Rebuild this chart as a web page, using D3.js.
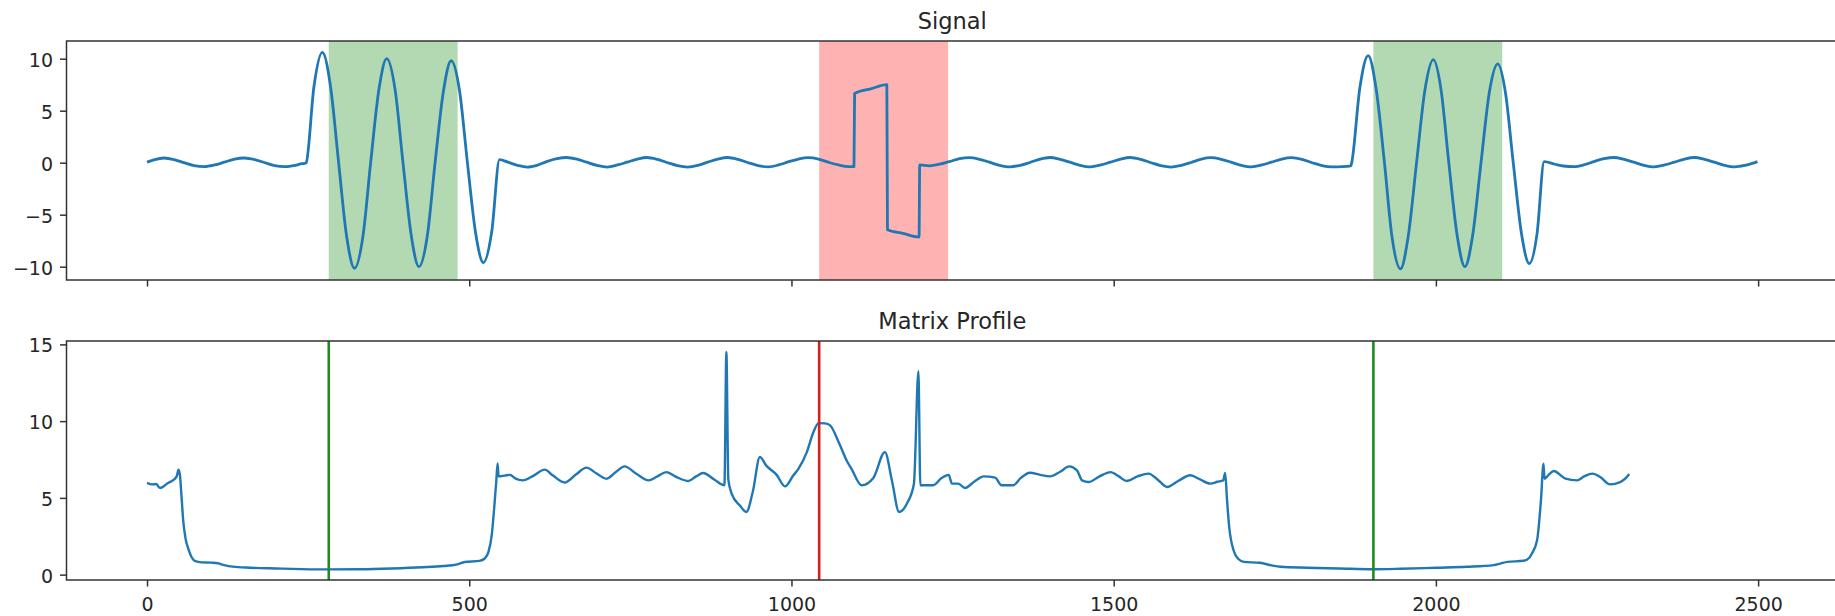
<!DOCTYPE html>
<html>
<head>
<meta charset="utf-8">
<script src="https://cdn.jsdelivr.net/npm/d3@7"></script>
<style>
  body { margin: 0; background: #fff; }
  svg { display: block; }
</style>
</head>
<body>
<svg id="chart" width="1835" height="616"></svg>
<script>

// signal (x = sample index, y = value)
const sigX = [0, 12, 26, 42, 57, 73, 89, 105, 120, 136, 151, 167, 182, 198, 214, 230, 240, 246,
  247, 259, 272, 285, 297, 310, 322, 335, 347, 360, 372, 385, 397, 410, 422, 435, 447, 460, 472, 485, 497, 510, 522, 535, 547,
  560, 575, 590, 605, 620, 636, 651, 667, 682, 698, 714, 730, 745, 761, 776, 792, 807, 823, 839, 855, 870, 886, 901, 917, 932, 948, 964, 980, 995, 1011, 1026, 1042, 1057, 1073, 1089, 1097,
  1098, 1123, 1148, 1149, 1173, 1198, 1199,
  1214, 1230, 1245, 1261, 1276, 1292, 1307, 1323, 1339, 1355, 1370, 1386, 1401, 1417, 1432, 1448, 1464, 1480, 1495, 1511, 1526, 1542, 1557, 1573, 1589, 1605, 1620, 1636, 1651, 1667, 1682, 1698, 1714, 1730, 1745, 1761, 1776, 1792, 1807, 1823, 1839, 1855, 1868,
  1869, 1882, 1895, 1907, 1920, 1932, 1945, 1957, 1970, 1983, 1996, 2008, 2020, 2033, 2045, 2057, 2070, 2083, 2096, 2108, 2120, 2133, 2145, 2157, 2168,
  2185, 2198, 2214, 2230, 2245, 2261, 2276, 2292, 2307, 2323, 2339, 2355, 2370, 2386, 2401, 2417, 2432, 2448, 2464, 2480, 2492, 2499];
const sigY = [0.05, 0.3, 0.45, 0.3, 0.0, -0.28, -0.38, -0.22, 0.05, 0.35, 0.45, 0.3, 0.02, -0.28, -0.38, -0.25, -0.1, -0.05,
  0.0, 7.3, 10.6, 7.2, 0.2, -7.2, -10.15, -7.1, 0.0, 7.1, 10.0, 7.0, 0.1, -7.0, -10.0, -7.0, 0.0, 6.9, 9.8, 6.9, 0.1, -6.8, -9.6, -6.6, 0.3,
  0.05, -0.25, -0.42, -0.25, 0.1, 0.38, 0.5, 0.35, 0.05, -0.25, -0.42, -0.22, 0.05, 0.35, 0.5, 0.32, 0.02, -0.28, -0.42, -0.25, 0.05, 0.35, 0.5, 0.32, 0.02, -0.28, -0.4, -0.22, 0.08, 0.35, 0.48, 0.35, 0.05, -0.22, -0.38, -0.38,
  6.65, 7.1, 7.5, -6.45, -6.8, -7.15, -0.22,
  -0.3, -0.15, 0.1, 0.38, 0.48, 0.32, 0.05, -0.25, -0.4, -0.25, 0.02, 0.35, 0.5, 0.32, 0.05, -0.25, -0.4, -0.22, 0.05, 0.35, 0.5, 0.32, 0.02, -0.28, -0.42, -0.25, 0.02, 0.35, 0.48, 0.32, 0.05, -0.25, -0.4, -0.22, 0.05, 0.35, 0.48, 0.32, 0.02, -0.28, -0.4, -0.38, -0.3,
  -0.1, 7.2, 10.3, 7.2, 0.1, -7.2, -10.2, -7.1, 0.0, 7.0, 9.9, 7.0, 0.0, -7.0, -10.0, -7.0, 0.0, 6.8, 9.5, 6.7, 0.0, -6.9, -9.7, -6.8, 0.1,
  -0.15, -0.32, -0.38, -0.2, 0.1, 0.38, 0.5, 0.32, 0.05, -0.25, -0.4, -0.22, 0.05, 0.35, 0.5, 0.32, 0.05, -0.25, -0.4, -0.25, -0.05, 0.1];

// matrix profile
const mpX = [0, 5, 9, 14, 20, 24, 32, 40, 46, 49, 51, 54, 56, 60, 64, 69, 75, 85, 100, 110, 120, 133, 160, 200, 240, 282, 330, 380, 428, 460, 480, 493, 516, 524, 530, 535, 539, 542, 544, 545.5,
  555, 563, 572, 583, 600, 617, 630, 648, 665, 682, 697, 713, 728, 741, 760, 778, 792, 806, 822, 840, 852, 863, 880, 896, 899, 902, 907, 920, 930, 940, 951, 961, 977, 990,
  1003, 1011, 1024, 1034, 1042, 1052, 1060, 1073, 1086, 1093, 1109, 1127, 1145, 1156, 1167, 1180, 1190, 1197, 1200, 1220, 1233, 1241, 1244, 1249, 1259, 1269, 1285, 1298,
  1316, 1326, 1344, 1356, 1370, 1386, 1401, 1417, 1431, 1443, 1451, 1461, 1478, 1495, 1508, 1520, 1537, 1554, 1568, 1583, 1600, 1619, 1634, 1650, 1661, 1670, 1673, 1676,
  1679, 1686, 1694, 1702, 1727, 1745, 1759, 1800, 1850, 1904, 1945, 2000, 2048, 2090, 2100, 2111, 2136, 2145, 2149, 2157, 2163, 2167, 2168.5, 2175, 2183, 2201, 2219,
  2230, 2243, 2255, 2270, 2286, 2295, 2300];
const mpY = [5.97, 5.9, 5.88, 5.9, 5.65, 5.7, 5.95, 6.14, 6.4, 6.84, 6.5, 4.8, 3.6, 2.3, 1.7, 1.15, 0.88, 0.8, 0.78, 0.74, 0.62, 0.52, 0.45, 0.4, 0.36, 0.34, 0.35, 0.4, 0.48, 0.56, 0.65, 0.82, 0.9, 1.05, 1.5, 2.6, 4.5, 6.1, 7.25, 6.4,
  6.45, 6.5, 6.25, 6.14, 6.45, 6.84, 6.45, 6.0, 6.5, 6.97, 6.6, 6.25, 6.7, 7.05, 6.55, 6.14, 6.4, 6.68, 6.35, 6.1, 6.4, 6.62, 6.2, 5.82, 14.5, 6.2, 5.3, 4.5, 4.08, 5.4, 7.66, 7.1, 6.5, 5.75,
  6.47, 6.9, 8.0, 9.27, 9.87, 9.85, 9.72, 8.65, 7.4, 6.9, 5.82, 6.3, 7.98, 6.1, 4.08, 4.7, 5.9, 13.25, 5.82, 5.82, 6.3, 6.47, 6.5, 5.93, 5.93, 5.65, 6.1, 6.4,
  6.32, 5.82, 5.82, 6.3, 6.64, 6.5, 6.4, 6.7, 7.05, 6.79, 6.14, 6.03, 6.4, 6.68, 6.4, 6.1, 6.4, 6.58, 6.2, 5.71, 6.1, 6.47, 6.2, 5.93, 6.05, 6.14, 6.62, 4.8,
  3.2, 1.59, 1.0, 0.83, 0.77, 0.6, 0.51, 0.45, 0.4, 0.35, 0.38, 0.45, 0.51, 0.62, 0.72, 0.83, 0.9, 1.1, 1.38, 2.24, 4.84, 7.23, 6.25, 6.5, 6.75, 6.25, 6.14,
  6.4, 6.58, 6.36, 5.88, 6.03, 6.3, 6.55];

// motifs (green) and discord (red)
const motifStarts = [282, 1903];
const discordStarts = [1043];
const windowLen = 200;

const xTicks = [0, 500, 1000, 1500, 2000, 2500];
const sigTicks = [-10, -5, 0, 5, 10];
const mpTicks = [0, 5, 10, 15];

var svg = d3.select("#chart");
svg.append("rect").attr("width", 1835).attr("height", 616).attr("fill", "#fff");

var left = 66.5, right = 1838;
var x = d3.scaleLinear().domain([-124.95, 2623.95]).range([left, right]);

var fmt = d => d < 0 ? "\u2212" + Math.abs(d) : String(d);

function styleAxis(g) {
  g.select(".domain").remove();
  g.attr("font-family", "'DejaVu Sans', sans-serif").attr("font-size", 19);
  g.selectAll(".tick line").attr("stroke", "#333").attr("stroke-width", 1.5);
  g.selectAll(".tick text").attr("fill", "#262626");
}

function makePanel(name, y0, y1, yDomain, yTicks, title, showXLabels) {
  var y = d3.scaleLinear().domain(yDomain).range([y1, y0]);
  var g = svg.append("g").attr("class", name);

  svg.append("clipPath").attr("id", "clip-" + name)
    .append("rect").attr("x", left).attr("y", y0)
    .attr("width", right - left).attr("height", y1 - y0);

  var plot = g.append("g").attr("clip-path", "url(#clip-" + name + ")");

  var xAxis = d3.axisBottom(x).tickValues(xTicks).tickSize(6.5).tickPadding(11)
    .tickFormat(showXLabels ? fmt : "");

  g.append("g").attr("transform", "translate(0," + y1 + ")").call(xAxis).call(styleAxis);
  g.append("g").attr("transform", "translate(" + left + ",0)")
    .call(d3.axisLeft(y).tickValues(yTicks).tickSize(6.5).tickPadding(7).tickFormat(fmt))
    .call(styleAxis)
    .selectAll(".tick text").attr("dy", "0.4em");

  var frame = g.append("rect")
    .attr("x", left).attr("y", y0)
    .attr("width", right - left).attr("height", y1 - y0)
    .attr("fill", "none").attr("stroke", "#333").attr("stroke-width", 1.5);

  svg.append("text")
    .attr("x", (left + right) / 2).attr("y", y0 - 11.7)
    .attr("text-anchor", "middle")
    .attr("font-family", "'DejaVu Sans', sans-serif")
    .attr("font-size", 22.5).attr("fill", "#262626")
    .text(title);

  return {plot: plot, frame: frame, y: y, y0: y0, y1: y1};
}

var line = (xs, ys, y) => d3.line()
  .x(i => x(xs[i])).y(i => y(ys[i]))
  .curve(d3.curveMonotoneX)(d3.range(xs.length));

// top panel: signal with shaded windows
var sigPanel = makePanel("signal", 41, 280, [-11.28, 11.7], sigTicks, "Signal", false);

sigPanel.plot.selectAll("rect.motif").data(motifStarts).join("rect")
  .attr("class", "motif")
  .attr("x", d => x(d)).attr("width", d => x(d + windowLen) - x(d))
  .attr("y", sigPanel.y0).attr("height", sigPanel.y1 - sigPanel.y0)
  .attr("fill", "green").attr("fill-opacity", 0.3);

sigPanel.plot.selectAll("rect.discord").data(discordStarts).join("rect")
  .attr("class", "discord")
  .attr("x", d => x(d)).attr("width", d => x(d + windowLen) - x(d))
  .attr("y", sigPanel.y0).attr("height", sigPanel.y1 - sigPanel.y0)
  .attr("fill", "red").attr("fill-opacity", 0.3);

sigPanel.plot.append("path")
  .attr("d", line(sigX, sigY, sigPanel.y))
  .attr("fill", "none").attr("stroke", "#1f77b4")
  .attr("stroke-width", 2.8).attr("stroke-linejoin", "round");

// bottom panel: matrix profile with markers
var mpPanel = makePanel("mp", 341, 580, [-0.35, 15.22], mpTicks, "Matrix Profile", true);

mpPanel.plot.append("path")
  .attr("d", line(mpX, mpY, mpPanel.y))
  .attr("fill", "none").attr("stroke", "#1f77b4")
  .attr("stroke-width", 2.4).attr("stroke-linejoin", "round");

mpPanel.plot.selectAll("line.motif").data(motifStarts).join("line")
  .attr("class", "motif")
  .attr("x1", d => x(d)).attr("x2", d => x(d))
  .attr("y1", mpPanel.y0).attr("y2", mpPanel.y1)
  .attr("stroke", "#1f8a1f").attr("stroke-width", 2.6);

mpPanel.plot.selectAll("line.discord").data(discordStarts).join("line")
  .attr("class", "discord")
  .attr("x1", d => x(d)).attr("x2", d => x(d))
  .attr("y1", mpPanel.y0).attr("y2", mpPanel.y1)
  .attr("stroke", "#d62020").attr("stroke-width", 2.6);

// frames above the marks
sigPanel.frame.raise();
mpPanel.frame.raise();

</script>
</body>
</html>
